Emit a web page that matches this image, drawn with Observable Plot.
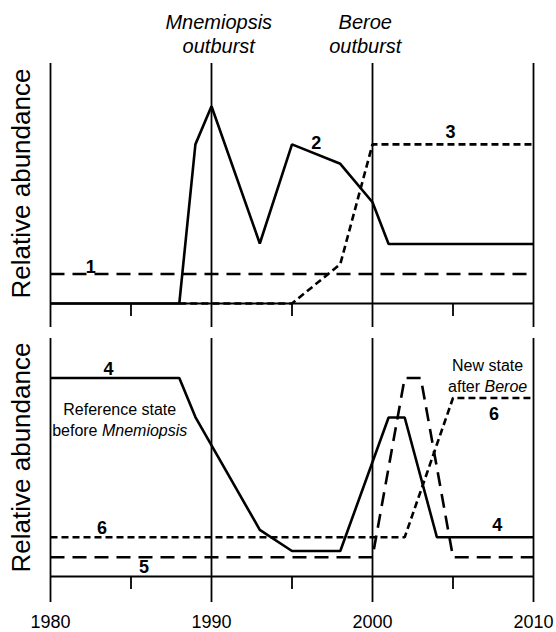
<!DOCTYPE html>
<html>
<head>
<meta charset="utf-8">
<script src="https://cdn.jsdelivr.net/npm/d3@7"></script>
<script src="https://cdn.jsdelivr.net/npm/@observablehq/plot@0.6"></script>
<style>
  html, body { margin: 0; padding: 0; background: #fff; }
  #chart { width: 556px; height: 632px; background: #fff; }
  #chart svg { display: block; }
</style>
</head>
<body>
<div id="chart"></div>
<script>
// ---------- data ----------
const xDomain = [1980, 2010];
const majorYears = [1980, 1990, 2000, 2010];
const minorYears = [1985, 1995, 2005];
const yLabel = "Relative abundance";

// top panel
const s1Years = [1980, 2010];
const s1Values = [12.3, 12.3];
const s2Years = [1980, 1988, 1989, 1990, 1993, 1995, 1998, 2000, 2001, 2010];
const s2Values = [0, 0, 66.3, 82.2, 25, 66.3, 58.2, 42.2, 24.8, 24.8];
const s3Years = [1988, 1995, 1998, 2000, 2010];
const s3Values = [0, 0, 16.4, 66.3, 66.3];

// bottom panel
const s4Years = [1980, 1988, 1989, 1993, 1995, 1998, 2001, 2002, 2004, 2010];
const s4Values = [83.4, 83.4, 67, 19.6, 10.7, 10.7, 66.8, 66.8, 16.5, 16.5];
const s5Years = [1980, 2000, 2002, 2003, 2005, 2010];
const s5Values = [8.1, 8.1, 83.4, 83.4, 8.1, 8.1];
const s6Years = [1980, 2002, 2005, 2010];
const s6Values = [16.5, 16.5, 75, 75];

// labels
const topNoteText = ["Mnemiopsis\noutburst", "Beroe\noutburst"];
const topNoteX = [1990.45, 1999.55];
const topNumText = ["1", "2", "3"];
const topNumX = [1982.5, 1996.5, 2004.85];
const topNumY = [15.3, 66.7, 71.4];
const botNumText = ["4", "6", "5", "6", "4"];
const botNumX = [1983.6, 1983.2, 1985.8, 2007.55, 2007.75];
const botNumY = [87.2, 20.2, 4.1, 68, 21.5];
const botNoteText = ["Reference state\nbefore Mnemiopsis", "New state\nafter Beroe"];
const botNoteX = [1984.3, 2007.15];
const botNoteY = [66.2, 84.6];

// ---------- helpers ----------
const pts = (xs, ys) => xs.map((x, i) => ({x, y: ys[i]}));
const lbl = (ts, xs, ys) => ts.map((t, i) => ({t, x: xs[i], y: ys[i]}));
const font = "'Liberation Sans', Arial, Helvetica, sans-serif";
const gridStyle = {stroke: "black", strokeOpacity: 1, strokeWidth: 1.8};
const lineW = 2.6;

function panel({height, marginTop, marginBottom, series, nums, notes, labels, topNotes}) {
  const marks = [
    Plot.gridX(majorYears, gridStyle),
    Plot.axisX(majorYears, {
      tickSize: labels ? 26 : 24, tickPadding: 13, strokeWidth: 1.8, stroke: "black",
      fontSize: 18, label: null, fill: "black",
      tickFormat: labels ? (d => String(d)) : (() => "")
    }),
    Plot.axisX(minorYears, {tickSize: 13, strokeWidth: 1.8, stroke: "black", label: null, tickFormat: () => ""}),
    Plot.ruleY([0], {stroke: "black", strokeWidth: 2}),
    ...series.map(([xs, ys, dash]) => Plot.line(pts(xs, ys), {
      x: "x", y: "y", stroke: "black", strokeWidth: lineW,
      strokeDasharray: dash, strokeLinejoin: "miter", strokeLinecap: "butt"
    })),
    Plot.text(nums, {x: "x", y: "y", text: "t", fontSize: 18, fontWeight: "bold", fill: "black"}),
    Plot.text([yLabel], {
      frameAnchor: "left", textAnchor: "middle", lineAnchor: "middle",
      rotate: -90, dx: -29, fontSize: 26, fill: "black"
    })
  ];
  if (notes) {
    marks.push(Plot.text(notes, {x: "x", y: "y", text: "t", fontSize: 16, lineHeight: 1.3, fill: "black"}));
  }
  if (topNotes) {
    marks.push(Plot.text(topNotes, {
      x: "x", text: "t", frameAnchor: "top", lineAnchor: "bottom", dy: -11,
      fontSize: 20, fontStyle: "italic", lineHeight: 1.17, fill: "black"
    }));
  }
  return Plot.plot({
    width: 556, height, marginLeft: 50, marginRight: 23, marginTop, marginBottom,
    x: {domain: xDomain, label: null},
    y: {domain: [0, 100], axis: null},
    style: {fontFamily: font, background: "#fff", color: "black", overflow: "visible"},
    marks
  });
}

const topSvg = panel({
  height: 330, marginTop: 63, marginBottom: 27, labels: false,
  series: [[s1Years, s1Values, "14,8"], [s2Years, s2Values, null], [s3Years, s3Values, "7,4"]],
  nums: lbl(topNumText, topNumX, topNumY),
  topNotes: topNoteText.map((t, i) => ({t, x: topNoteX[i]}))
});

const botSvg = panel({
  height: 302, marginTop: 8, marginBottom: 56, labels: true,
  series: [[s4Years, s4Values, null], [s5Years, s5Values, "14,8"], [s6Years, s6Values, "7,4"]],
  nums: lbl(botNumText, botNumX, botNumY),
  notes: lbl(botNoteText, botNoteX, botNoteY)
});

// italicise the species names inside the bottom annotations
d3.select(botSvg).selectAll("tspan").each(function () {
  const txt = this.textContent;
  const m = txt.match(/^(before |after )(Mnemiopsis|Beroe)$/);
  if (m) {
    this.textContent = m[1];
    const it = document.createElementNS("http://www.w3.org/2000/svg", "tspan");
    it.setAttribute("font-style", "italic");
    it.textContent = m[2];
    this.appendChild(it);
  }
});

const chart = document.getElementById("chart");
chart.appendChild(topSvg);
chart.appendChild(botSvg);
</script>
</body>
</html>
